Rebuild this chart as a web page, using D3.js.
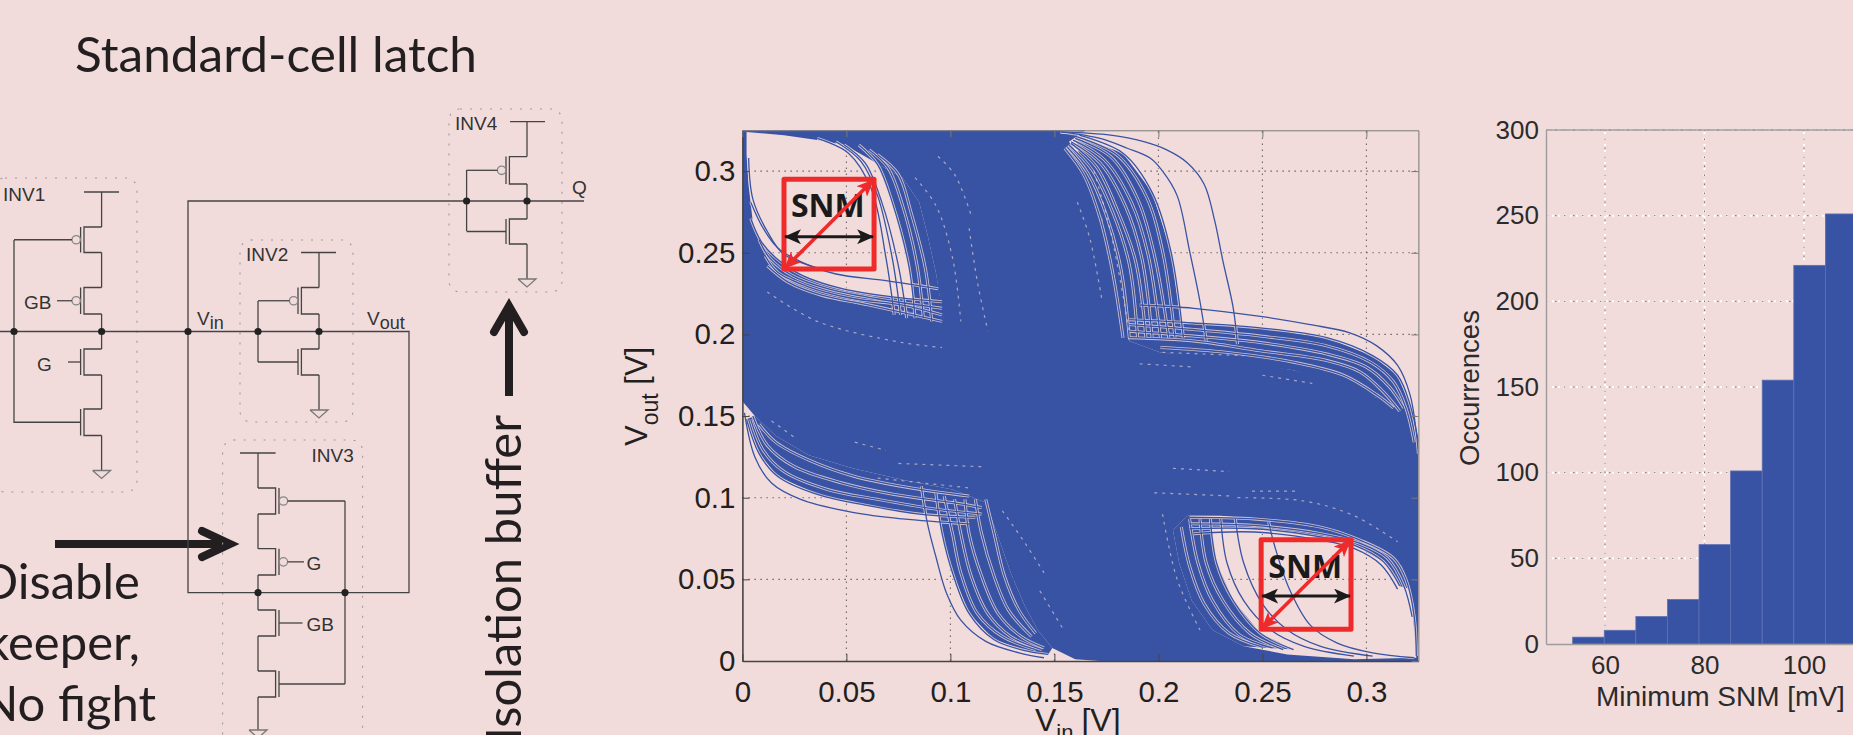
<!DOCTYPE html>
<html><head><meta charset="utf-8">
<script src="https://cdn.jsdelivr.net/npm/d3@7/dist/d3.min.js"></script>
<style>html,body{margin:0;padding:0;background:#f2dcdb;overflow:hidden}svg{display:block}</style>
</head><body><svg id="c" width="1853" height="735"></svg>
<script>
// ---------- butterfly plot (values in volts) ----------
const vtcTicks = [0, 0.05, 0.1, 0.15, 0.2, 0.25, 0.3];
const massOutline = [[0,.325],[.165,.325],[.157,.318],[.162,.309],[.167,.298],[.173,.271],[.176,.243],[.180,.214],[.186,.196],[.201,.189],[.233,.185],[.265,.178],[.289,.170],[.305,.161],[.316,.151],[.323,.140],[.325,.127],[.325,0],[.172,0],[.160,.001],[.149,.008],[.142,.019],[.136,.033],[.129,.054],[.123,.076],[.117,.097],[.101,.105],[.077,.111],[.053,.118],[.032,.126],[.016,.138],[.006,.150],[0,.159]];
const lobeTopLeft = [[.002,.324],[.020,.322],[.036,.319],[.049,.316],[.059,.309],[.067,.303],[.077,.296],[.085,.281],[.089,.261],[.093,.238],[.096,.214],[.097,.208],[.077,.215],[.057,.218],[.038,.224],[.024,.232],[.014,.241],[.009,.253],[.005,.269],[.003,.291],[.002,.310]];
const lobeBottomRight = [[.324,.002],[.323,.019],[.321,.044],[.317,.058],[.310,.066],[.300,.073],[.286,.080],[.270,.084],[.246,.087],[.230,.089],[.214,.089],[.207,.080],[.210,.060],[.216,.037],[.226,.019],[.241,.009],[.262,.004],[.294,.001]];
// densest parts of the bundles, where the fine traces merge
const bundleAreas = [
 [[.160,.322],[.183,.311],[.197,.287],[.206,.251],[.212,.198],[.180,.198],[.173,.271],[.162,.309]],
 [[.186,.209],[.217,.207],[.249,.204],[.281,.198],[.303,.187],[.315,.175],[.321,.157],[.325,.134],[.325,.127],[.305,.161],[.265,.178],[.201,.189],[.186,.196]],
 [[.056,.316],[.065,.304],[.072,.281],[.080,.242],[.083,.210],[.097,.208],[.093,.238],[.089,.261],[.085,.281],[.077,.296],[.067,.303]],
 [[.004,.271],[.009,.257],[.016,.247],[.029,.236],[.048,.228],[.072,.223],[.096,.220],[.097,.208],[.077,.215],[.057,.218],[.038,.224],[.024,.232],[.014,.241],[.009,.253],[.005,.269]],
 [[.002,.148],[.008,.127],[.017,.113],[.036,.102],[.061,.095],[.085,.090],[.112,.088],[.117,.097],[.101,.105],[.077,.111],[.053,.118],[.032,.126],[.016,.138],[.006,.150]],
 [[.093,.103],[.096,.078],[.101,.054],[.109,.029],[.121,.013],[.137,.006],[.147,.004],[.149,.008],[.142,.019],[.136,.033],[.129,.054],[.123,.076],[.117,.097]],
 [[.225,.087],[.228,.060],[.236,.037],[.249,.017],[.265,.007],[.241,.009],[.226,.019],[.216,.037],[.210,.060],[.207,.080],[.214,.089]],
 [[.215,.081],[.246,.081],[.278,.076],[.294,.071],[.308,.061],[.316,.046],[.321,.044],[.317,.058],[.310,.066],[.300,.073],[.286,.080],[.270,.084],[.246,.087],[.214,.089]]
];
const tracesTopRight = [
 [[.153,.324],[.177,.322],[.193,.318],[.204,.313],[.214,.305],[.222,.292],[.227,.270],[.231,.245],[.236,.216],[.238,.194]],
 [[.153,.324],[.172,.320],[.185,.314],[.196,.308],[.202,.300],[.209,.285],[.215,.251],[.220,.220],[.223,.196]],
 [[.162,.322],[.183,.311],[.197,.287],[.206,.251],[.212,.198]],
 [[.161,.321],[.180,.310],[.194,.285],[.202,.251],[.208,.198]],
 [[.160,.320],[.177,.309],[.190,.283],[.198,.249],[.205,.198]],
 [[.159,.319],[.174,.307],[.187,.281],[.195,.249],[.201,.198]],
 [[.158,.318],[.172,.305],[.184,.279],[.192,.247],[.197,.198]],
 [[.158,.317],[.170,.303],[.180,.277],[.189,.245],[.194,.198]],
 [[.157,.316],[.168,.301],[.178,.275],[.186,.243],[.190,.198]],
 [[.156,.315],[.166,.299],[.175,.273],[.182,.240],[.186,.198]],
 [[.155,.314],[.164,.298],[.172,.271],[.178,.238],[.183,.198]],
 [[.191,.218],[.217,.216],[.249,.211],[.273,.206],[.292,.201],[.305,.193],[.315,.181],[.321,.163],[.324,.140],[.325,.127]],
 [[.186,.209],[.217,.207],[.249,.204],[.281,.198],[.303,.187],[.315,.175],[.321,.157],[.325,.134]],
 [[.186,.206],[.217,.203],[.249,.199],[.281,.193],[.302,.183],[.313,.171],[.319,.155],[.323,.134]],
 [[.186,.202],[.217,.199],[.249,.195],[.281,.188],[.300,.180],[.311,.168],[.318,.155]],
 [[.186,.198],[.217,.196],[.249,.190],[.281,.184],[.297,.177],[.308,.165],[.316,.153]],
 [[.201,.192],[.233,.189],[.265,.183],[.289,.175],[.305,.163],[.313,.155]]
];
const tracesTopLeft = [
 [[.036,.320],[.051,.311],[.062,.289],[.069,.247],[.073,.212]],
 [[.045,.318],[.057,.306],[.065,.285],[.072,.247],[.076,.212]],
 [[.049,.316],[.059,.305],[.067,.281],[.075,.242],[.079,.210]],
 [[.056,.316],[.065,.304],[.072,.281],[.080,.242],[.083,.210]],
 [[.061,.313],[.070,.302],[.077,.279],[.084,.242],[.087,.210]],
 [[.065,.310],[.075,.298],[.081,.275],[.088,.240],[.091,.208]],
 [[.003,.308],[.005,.283],[.012,.263],[.020,.249],[.038,.240]],
 [[.004,.281],[.010,.265],[.017,.253],[.029,.244],[.045,.237],[.069,.233],[.094,.228]],
 [[.004,.271],[.009,.257],[.016,.247],[.029,.236],[.048,.228],[.072,.223],[.096,.220]],
 [[.008,.258],[.013,.247],[.024,.236],[.041,.228],[.064,.222],[.096,.216]],
 [[.011,.248],[.017,.238],[.032,.229],[.053,.222],[.077,.218],[.096,.212]],
 [[.012,.242],[.022,.232],[.038,.224],[.061,.218],[.096,.208]]
];
const tracesBottomLeft = [
 [[.001,.152],[.006,.125],[.014,.109],[.028,.099],[.053,.091],[.077,.087],[.109,.084]],
 [[.002,.148],[.008,.127],[.017,.113],[.036,.102],[.061,.095],[.085,.090],[.112,.088]],
 [[.004,.148],[.010,.129],[.020,.116],[.041,.105],[.065,.099],[.093,.093],[.115,.090]],
 [[.005,.150],[.012,.132],[.025,.119],[.048,.109],[.073,.102],[.101,.097],[.115,.094]],
 [[.008,.145],[.016,.134],[.032,.123],[.054,.113],[.081,.106],[.109,.101]],
 [[.086,.107],[.089,.084],[.093,.064],[.098,.042],[.105,.025],[.117,.012],[.133,.005],[.145,.002]],
 [[.093,.103],[.096,.078],[.101,.054],[.109,.029],[.121,.013],[.137,.006],[.147,.004]],
 [[.097,.101],[.101,.078],[.105,.054],[.113,.029],[.125,.015],[.141,.007]],
 [[.102,.099],[.105,.078],[.110,.052],[.118,.029],[.129,.015],[.144,.007]],
 [[.107,.099],[.109,.078],[.115,.052],[.123,.029],[.134,.015],[.145,.008]],
 [[.112,.099],[.115,.078],[.121,.052],[.128,.031],[.139,.015]],
 [[.117,.099],[.121,.078],[.126,.052],[.133,.031],[.141,.017]]
];
const tracesBottomRight = [
 [[.253,.085],[.256,.070],[.263,.044],[.273,.022],[.286,.011],[.303,.005],[.323,.002]],
 [[.237,.087],[.241,.060],[.250,.035],[.262,.019],[.278,.009],[.303,.003]],
 [[.230,.087],[.233,.060],[.241,.037],[.254,.019],[.270,.009],[.294,.003]],
 [[.225,.087],[.228,.060],[.236,.037],[.249,.017],[.265,.007]],
 [[.220,.087],[.223,.060],[.231,.037],[.244,.017],[.260,.007]],
 [[.215,.087],[.219,.060],[.226,.037],[.239,.016],[.255,.008]],
 [[.211,.082],[.215,.058],[.222,.035],[.234,.017],[.249,.009]],
 [[.215,.088],[.246,.087],[.278,.082],[.297,.074],[.313,.063],[.319,.050],[.323,.027],[.324,.003]],
 [[.215,.084],[.246,.083],[.278,.078],[.297,.072],[.310,.063],[.318,.046],[.322,.027]],
 [[.215,.081],[.246,.081],[.278,.076],[.294,.071],[.308,.061],[.316,.046]],
 [[.217,.078],[.246,.079],[.278,.074],[.294,.069],[.307,.059],[.315,.044]]
];
const traceGaps = [
 [[.094,.309],[.102,.298],[.110,.273]],[[.109,.265],[.113,.232],[.118,.202]],[[.012,.226],[.036,.208],[.077,.195],[.096,.192]],[[.083,.296],[.093,.279],[.101,.247],[.105,.208]],
 [[.161,.281],[.167,.259],[.173,.220]],[[.191,.182],[.217,.180]],[[.250,.175],[.274,.170]],[[.202,.189],[.241,.187]],[[.169,.300],[.177,.263],[.186,.202]],
 [[.014,.147],[.025,.137]],[[.054,.134],[.069,.129]],[[.075,.121],[.115,.119]],[[.125,.092],[.136,.072],[.145,.054]],[[.143,.043],[.154,.020]],[[.065,.112],[.109,.106]],
 [[.238,.100],[.270,.098],[.294,.089],[.315,.073]],[[.198,.103],[.236,.101]],[[.202,.090],[.209,.050],[.220,.019]],[[.207,.118],[.234,.116]],[[.245,.104],[.266,.104]]
];
const snmBoxes = [
 {x0:.020, x1:.0633, y0:.240, y1:.295, arrowY:.2598, labelX:.0411, labelY:.2718},
 {x0:.2494, x1:.2926, y0:.0194, y1:.0743, arrowY:.0398, labelX:.2706, labelY:.051}
];
// ---------- histogram ----------
const binEdges  = [53.5, 59.85, 66.2, 72.55, 78.9, 85.25, 91.6, 97.95, 104.3, 110.65];
const binCounts = [4, 8, 16, 26, 58, 101, 154, 221, 251];
const histXTicks = [60, 80, 100];
const histYTicks = [0, 50, 100, 150, 200, 250, 300];
// ---------- texts ----------
const titleText = "Standard-cell latch";
const leftNote = ["Disable", "keeper,", "No fight"];
const bufferNote = "Isolation buffer";

const BG = "#f2dcdb", BLUE = "#3953a4", INK = "#231f20";
const SANS = "'Liberation Sans', Arial, sans-serif";
const svg = d3.select("#c");
svg.append("rect").attr("width",1853).attr("height",735).attr("fill",BG);
const defs = svg.append("defs");

// ---------- slide text ----------
svg.append("text").attr("x",75).attr("y",72).attr("font-family","Lato").attr("font-size",49)
   .attr("fill",INK).attr("textLength",402).attr("lengthAdjust","spacingAndGlyphs").text(titleText);
svg.selectAll(".note").data(leftNote).join("text").attr("class","note")
   .attr("x",(d,i)=>i==2?156:140).attr("y",(d,i)=>599+i*61).attr("text-anchor","end")
   .attr("font-family","Lato").attr("font-size",49).attr("fill",INK).text(d=>d);
svg.append("text").attr("transform","translate(521,415) rotate(-90)").attr("text-anchor","end")
   .attr("font-family","Lato").attr("font-size",49).attr("fill",INK).text(bufferNote);

// ---------- block arrows ----------
const plain = d3.line();
function blockArrow(pts, head){
  svg.append("path").attr("d",plain(pts)).attr("fill","none").attr("stroke",INK).attr("stroke-width",8);
  svg.append("path").attr("d",plain(head)).attr("fill","none").attr("stroke",INK).attr("stroke-width",8)
     .attr("stroke-linecap","round").attr("stroke-linejoin","miter");
}
blockArrow([[509,396],[509,306]],[[494,332],[509,306],[524,332]]);
blockArrow([[55,544],[228,544]],[[202,531],[230,544],[202,557]]);

// ---------- schematic ----------
const sch = svg.append("g").attr("fill","none").attr("stroke","#444").attr("stroke-width",1.3);
const wire = pts => sch.append("path").attr("d",plain(pts));
const dot = (x,y) => sch.append("circle").attr("cx",x).attr("cy",y).attr("r",3.6).attr("fill","#222").attr("stroke","none");
const lab = (t,x,y,fs=19) => svg.append("text").attr("x",x).attr("y",y).attr("font-family",SANS).attr("font-size",fs).attr("fill","#333").text(t);
const box = (x,y,w,h) => sch.append("rect").attr("x",x).attr("y",y).attr("width",w).attr("height",h).attr("rx",11)
   .attr("stroke","#9a9a9a").attr("stroke-width",1.1).attr("stroke-dasharray","2 8");
function fet(rail,top,bot,dir,isP,gateTo){
  const ch = rail+dir*17.6, g = rail+dir*21, mid=(top+bot)/2;
  wire([[rail,top],[ch,top],[ch,bot],[rail,bot]]);
  wire([[g,top],[g,bot]]);
  if(isP){
    sch.append("circle").attr("cx",g+dir*4.4).attr("cy",mid).attr("r",4.2).attr("stroke","#888");
    wire([[g+dir*8.6,mid],[gateTo,mid]]);
  } else wire([[g,mid],[gateTo,mid]]);
}
function ground(x,y){ sch.append("path").attr("stroke","#777").attr("d",plain([[x-9,y],[x+9,y],[x,y+8],[x-9,y]])); }

box(-6,178,143,314); box(240,240,113,182); box(222.6,440,140,320); box(449,109,113,183);
// INV1
wire([[84,192],[119,192]]); wire([[101.6,192],[101.6,227]]);
fet(101.6,227,252.5,-1,true,14); wire([[101.6,252.5],[101.6,287.5]]);
fet(101.6,287.5,314,-1,true,57); wire([[101.6,314],[101.6,349]]);
fet(101.6,349,375,-1,false,68); wire([[101.6,375],[101.6,409]]);
fet(101.6,409,435.5,-1,false,14); wire([[101.6,435.5],[101.6,470.5]]); ground(101.6,470.5);
wire([[14,240],[14,423]]);
// INV2
wire([[301,252.5],[336,252.5]]); wire([[319,252.5],[319,287.5]]);
fet(319,287.5,314,-1,true,258); wire([[319,314],[319,349]]);
fet(319,349,375,-1,false,258); wire([[319,375],[319,410]]); ground(319,410);
wire([[258,301],[258,362]]);
// INV3
wire([[240,453],[275.6,453]]); wire([[258,453],[258,488]]);
fet(258,488,514,1,true,345); wire([[258,514],[258,548.7]]);
fet(258,548.7,575,1,true,304); wire([[258,575],[258,610]]);
fet(258,610,636,1,false,302.5); wire([[258,636],[258,671]]);
fet(258,671,697,1,false,345); wire([[258,697],[258,730]]); ground(258,730);
wire([[345,501],[345,684]]);
// INV4
wire([[510,121.7],[545,121.7]]); wire([[527,121.7],[527,156.6]]);
fet(527,156.6,184,-1,true,466.6); wire([[527,184],[527,219]]);
fet(527,219,244,-1,false,466.6); wire([[527,244],[527,279]]); ground(527,279);
wire([[466.6,170],[466.6,231]]);
// nets
wire([[0,331.5],[409,331.5],[409,592.6],[188,592.6],[188,201],[584,201]]);
[[14,331.5],[101.6,331.5],[188,331.5],[258,331.5],[319,331.5],[258,592.6],[345,592.6],[466.6,201],[527,201]].forEach(p=>dot(...p));
lab("INV1",3,201); lab("INV2",246,261); lab("INV3",311.6,461.5); lab("INV4",455,130);
lab("GB",24,309); lab("G",37,370.5); lab("G",306.5,570); lab("GB",306.5,631); lab("Q",572,194);
const vin = lab("V",197,324.5); vin.append("tspan").attr("dy",4).attr("font-size",18).text("in");
const vout = lab("V",367,324.5); vout.append("tspan").attr("dy",4).attr("font-size",18).text("out");

// ---------- butterfly plot ----------
const xV = d3.scaleLinear().domain([0,.325]).range([742.4,1418.4]);
const yV = d3.scaleLinear().domain([0,.325]).range([661,130.3]);
const gV = svg.append("g");
defs.append("clipPath").attr("id","vclip").append("rect")
   .attr("x",xV(0)).attr("y",yV(.325)).attr("width",xV(.325)-xV(0)).attr("height",yV(0)-yV(.325));
const gridV = gV.append("g").attr("stroke","#6b6464").attr("stroke-width",1.1).attr("stroke-dasharray","1.5 4.5");
gridV.selectAll(".gx").data(vtcTicks.slice(1)).join("line").attr("x1",d=>xV(d)).attr("x2",d=>xV(d)).attr("y1",yV(0)).attr("y2",yV(.325));
gridV.selectAll(".gy").data(vtcTicks.slice(1)).join("line").attr("y1",d=>yV(d)).attr("y2",d=>yV(d)).attr("x1",xV(0)).attr("x2",xV(.325));
const lineV = d3.line().x(d=>xV(d[0])).y(d=>yV(d[1]));
const curveV = d3.line().x(d=>xV(d[0])).y(d=>yV(d[1])).curve(d3.curveCatmullRom.alpha(.5));
const traces = gV.append("g").attr("clip-path","url(#vclip)");
const allTraces = [...tracesTopRight,...tracesTopLeft,...tracesBottomLeft,...tracesBottomRight];
traces.append("path").attr("fill",BLUE).attr("fill-rule","evenodd")
   .attr("d",lineV(massOutline)+"Z"+lineV(lobeTopLeft)+"Z"+lineV(lobeBottomRight)+"Z");
traces.selectAll(".area").data(bundleAreas).join("path").attr("class","area").attr("fill",BLUE)
   .attr("d",d=>lineV(d)+"Z");
// pale slivers of background showing beside each trace inside the bundles
traces.selectAll(".halo").data(allTraces).join("path").attr("class","halo")
   .attr("fill","none").attr("stroke",BG).attr("stroke-width",3).attr("stroke-opacity",.8).attr("d",curveV);
traces.selectAll(".tr").data(allTraces).join("path").attr("class","tr")
   .attr("fill","none").attr("stroke",BLUE).attr("stroke-width",1.3).attr("d",curveV);
traces.selectAll(".gap").data(traceGaps).join("path").attr("class","gap")
   .attr("fill","none").attr("stroke",BG).attr("stroke-width",1.2).attr("stroke-opacity",.6).attr("stroke-dasharray","3 5").attr("d",curveV);
function styleAxis(g,fs,color,txt){
  g.selectAll("path,line").attr("stroke",color);
  g.selectAll("text").attr("font-family",SANS).attr("font-size",fs).attr("fill",txt);
}
const axB = gV.append("g").attr("transform",`translate(0,${yV(0)})`)
   .call(d3.axisBottom(xV).tickValues(vtcTicks).tickFormat(String).tickSizeInner(-7).tickSizeOuter(0).tickPadding(18));
const axL = gV.append("g").attr("transform",`translate(${xV(0)},0)`)
   .call(d3.axisLeft(yV).tickValues(vtcTicks).tickFormat(String).tickSizeInner(-7).tickSizeOuter(0).tickPadding(7));
const axT = gV.append("g").attr("transform",`translate(0,${yV(.325)})`)
   .call(d3.axisTop(xV).tickValues(vtcTicks).tickFormat("").tickSizeInner(-7).tickSizeOuter(0));
const axR = gV.append("g").attr("transform",`translate(${xV(.325)},0)`)
   .call(d3.axisRight(yV).tickValues(vtcTicks).tickFormat("").tickSizeInner(-7).tickSizeOuter(0));
[axB,axL].forEach(a=>{styleAxis(a,29.5,"#444","#231f20");a.selectAll(".domain").attr("stroke-width",1.6);});
[axT,axR].forEach(a=>{styleAxis(a,10,"#777","#777");a.selectAll("text").remove();});
axB.selectAll("text").attr("dy","0").attr("y",40.5);
const xlab = gV.append("text").attr("x",1035).attr("y",731).attr("font-family",SANS).attr("font-size",32).attr("fill",INK).text("V");
xlab.append("tspan").attr("font-size",22).attr("dy",9).text("in");
xlab.append("tspan").attr("dy",-9).attr("dx",8).text("[V]");
const ylab = gV.append("text").attr("transform","translate(647,446) rotate(-90)").attr("font-family",SANS).attr("font-size",31).attr("fill",INK).text("V");
ylab.append("tspan").attr("font-size",23).attr("dy",11).text("out");
ylab.append("tspan").attr("dy",-11).text(" [V]");
const mk = (id,c,w,h) => defs.append("marker").attr("id",id).attr("viewBox","0 0 16 14").attr("refX",15).attr("refY",7)
   .attr("markerUnits","userSpaceOnUse").attr("markerWidth",w).attr("markerHeight",h).attr("orient","auto-start-reverse")
   .append("path").attr("d","M0,0L16,7L0,14L4,7Z").attr("fill",c);
mk("ar","#ee2a2a",17,15); mk("ab","#1a1a1a",17,15);
const snm = gV.selectAll(".snm").data(snmBoxes).join("g");
snm.append("rect").attr("x",d=>xV(d.x0)).attr("y",d=>yV(d.y1)).attr("width",d=>xV(d.x1)-xV(d.x0)).attr("height",d=>yV(d.y0)-yV(d.y1))
   .attr("fill","none").attr("stroke","#ee2a2a").attr("stroke-width",5).attr("stroke-linejoin","round");
snm.append("text").attr("x",d=>xV(d.labelX)).attr("y",d=>yV(d.labelY)).attr("text-anchor","middle")
   .attr("font-family","'Open Sans'").attr("font-weight",700).attr("font-size",32).attr("fill","#1a1a1a").text("SNM");
snm.append("line").attr("x1",d=>xV(d.x0)+1).attr("x2",d=>xV(d.x1)-1).attr("y1",d=>yV(d.y0)-1).attr("y2",d=>yV(d.y1)+1)
   .attr("stroke","#ee2a2a").attr("stroke-width",3.6).attr("marker-start","url(#ar)").attr("marker-end","url(#ar)");
snm.append("line").attr("x1",d=>xV(d.x0)+1).attr("x2",d=>xV(d.x1)-1).attr("y1",d=>yV(d.arrowY)).attr("y2",d=>yV(d.arrowY))
   .attr("stroke","#1a1a1a").attr("stroke-width",3).attr("marker-start","url(#ab)").attr("marker-end","url(#ab)");

// ---------- histogram ----------
const xH = d3.scaleLinear().domain([60,100]).range([1605,1804]);
const yH = d3.scaleLinear().domain([0,300]).range([644,130]);
const xL = xH.invert(1546), xRight = xH.invert(1860);
const gH = svg.append("g");
const gridW = gH.append("g").attr("stroke","#fff").attr("stroke-width",2).attr("stroke-dasharray","2 4");
gridW.selectAll(".a").data(histXTicks).join("line").attr("x1",d=>xH(d)).attr("x2",d=>xH(d)).attr("y1",yH(0)).attr("y2",yH(300));
gridW.selectAll(".b").data(histYTicks.slice(1)).join("line").attr("y1",d=>yH(d)).attr("y2",d=>yH(d)).attr("x1",xH(xL)).attr("x2",xH(xRight));
const gridD = gH.append("g").attr("stroke","#777").attr("stroke-width",1).attr("stroke-dasharray","1.5 7.5");
gridD.selectAll(".a").data(histXTicks).join("line").attr("x1",d=>xH(d)).attr("x2",d=>xH(d)).attr("y1",yH(0)).attr("y2",yH(300));
gridD.selectAll(".b").data(histYTicks.slice(1)).join("line").attr("y1",d=>yH(d)).attr("y2",d=>yH(d)).attr("x1",xH(xL)).attr("x2",xH(xRight));
gH.selectAll(".bar").data(binCounts).join("rect")
   .attr("x",(d,i)=>xH(binEdges[i])).attr("width",(d,i)=>xH(binEdges[i+1])-xH(binEdges[i]))
   .attr("y",d=>yH(d)).attr("height",d=>yH(0)-yH(d))
   .attr("fill",BLUE).attr("stroke","#5d70b3").attr("stroke-width",.8);
const hB = gH.append("g").attr("transform",`translate(0,${yH(0)})`)
   .call(d3.axisBottom(d3.scaleLinear().domain([xL,xRight]).range([xH(xL),xH(xRight)])).tickValues(histXTicks).tickSize(0).tickPadding(12));
const hL = gH.append("g").attr("transform",`translate(${xH(xL)},0)`)
   .call(d3.axisLeft(yH).tickValues(histYTicks).tickSize(0).tickPadding(7));
gH.append("line").attr("x1",xH(xL)).attr("x2",xH(xRight)).attr("y1",yH(300)).attr("y2",yH(300)).attr("stroke","#9c9c9c").attr("stroke-width",1.3);
[hB,hL].forEach(a=>{styleAxis(a,26,"#9c9c9c","#2b2b2b");a.selectAll(".domain").attr("stroke-width",1.4);});
hB.selectAll("text").attr("dy","0").attr("y",30);
gH.append("text").attr("x",1596).attr("y",705.5).attr("font-family",SANS).attr("font-size",28).attr("fill","#2b2b2b").text("Minimum SNM [mV]");
gH.append("text").attr("transform","translate(1479,466) rotate(-90)").attr("font-family",SANS).attr("font-size",27.5).attr("fill","#2b2b2b").text("Occurrences");
</script></body></html>
